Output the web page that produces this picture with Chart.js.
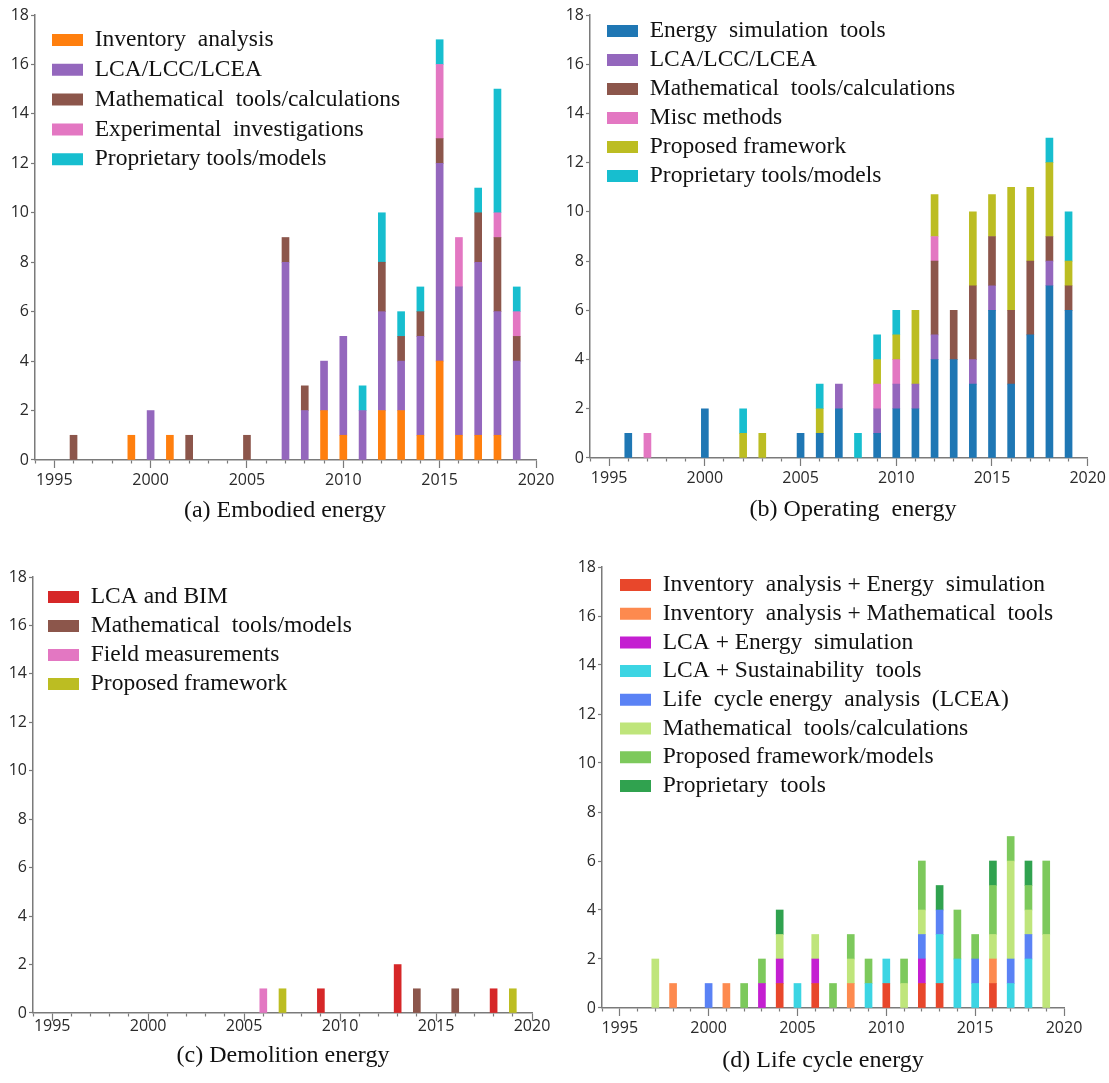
<!DOCTYPE html>
<html><head><meta charset="utf-8">
<script src="https://cdn.jsdelivr.net/npm/chart.js@4.4.1/dist/chart.umd.min.js"></script>
<style>
html,body{margin:0;padding:0;background:#fff;width:1109px;height:1083px;overflow:hidden;position:relative}
canvas{position:absolute}
</style></head><body>
<canvas id="ca"></canvas><canvas id="cb"></canvas><canvas id="cc"></canvas><canvas id="cd"></canvas>
<script>
// ---- axis categories and data years ----
const axisYears = ['1994','1995','1996','1997','1998','1999','2000','2001','2002','2003','2004','2005','2006','2007','2008','2009','2010','2011','2012','2013','2014','2015','2016','2017','2018','2019','2020'];
const years = [1996,1997,1998,1999,2000,2001,2002,2003,2004,2005,2006,2007,2008,2009,2010,2011,2012,2013,2014,2015,2016,2017,2018,2019];
const yTicks = {min: 0, max: 18, step: 2};

// ---- (a) Embodied energy ----
const embodiedLabels = ['Inventory  analysis','LCA/LCC/LCEA','Mathematical  tools/calculations','Experimental  investigations','Proprietary tools/models'];
const embodiedInventory    = [0,0,0,1,0,1,0,0,0,0,0,0,0,2,1,0,2,2,1,4,1,1,1,0];
const embodiedLCA          = [0,0,0,0,2,0,0,0,0,0,0,8,2,2,4,2,4,2,4,8,6,7,5,4];
const embodiedMath         = [1,0,0,0,0,0,1,0,0,1,0,1,1,0,0,0,2,1,1,1,0,2,3,1];
const embodiedExperimental = [0,0,0,0,0,0,0,0,0,0,0,0,0,0,0,0,0,0,0,3,2,0,1,1];
const embodiedProprietary  = [0,0,0,0,0,0,0,0,0,0,0,0,0,0,0,1,2,1,1,1,0,1,5,1];

// ---- (b) Operating energy ----
const operatingLabels = ['Energy  simulation  tools','LCA/LCC/LCEA','Mathematical  tools/calculations','Misc methods','Proposed framework','Proprietary tools/models'];
const operatingEnergySim   = [1,0,0,0,2,0,0,0,0,1,1,2,0,1,2,2,4,4,3,6,3,5,7,6];
const operatingLCA         = [0,0,0,0,0,0,0,0,0,0,0,1,0,1,1,1,1,0,1,1,0,0,1,0];
const operatingMath        = [0,0,0,0,0,0,0,0,0,0,0,0,0,0,0,0,3,2,3,2,3,3,1,1];
const operatingMisc        = [0,1,0,0,0,0,0,0,0,0,0,0,0,1,1,0,1,0,0,0,0,0,0,0];
const operatingProposed    = [0,0,0,0,0,0,1,1,0,0,1,0,0,1,1,3,1.7,0,3,1.7,5,3,3,1];
const operatingProprietary = [0,0,0,0,0,0,1,0,0,0,1,0,1,1,1,0,0,0,0,0,0,0,1,2];

// ---- (c) Demolition energy ----
const demolitionLabels = ['LCA and BIM','Mathematical  tools/models','Field measurements','Proposed framework'];
const demolitionLCABIM    = [0,0,0,0,0,0,0,0,0,0,0,0,0,1,0,0,0,2,0,0,0,0,1,0];
const demolitionMath      = [0,0,0,0,0,0,0,0,0,0,0,0,0,0,0,0,0,0,1,0,1,0,0,0];
const demolitionField     = [0,0,0,0,0,0,0,0,0,0,1,0,0,0,0,0,0,0,0,0,0,0,0,0];
const demolitionProposed  = [0,0,0,0,0,0,0,0,0,0,0,1,0,0,0,0,0,0,0,0,0,0,0,1];

// ---- (d) Life cycle energy ----
const lifeLabels = ['Inventory  analysis + Energy  simulation','Inventory  analysis + Mathematical  tools','LCA + Energy  simulation','LCA + Sustainability  tools','Life  cycle energy  analysis  (LCEA)','Mathematical  tools/calculations','Proposed framework/models','Proprietary  tools'];
const lifeInvEnergy   = [0,0,0,0,0,0,0,0,1,0,1,0,0,0,1,0,1,1,0,0,1,0,0,0];
const lifeInvMath     = [0,0,1,0,0,1,0,0,0,0,0,0,1,0,0,0,0,0,0,0,1,0,0,0];
const lifeLCAEnergy   = [0,0,0,0,0,0,0,1,1,0,1,0,0,0,0,0,1,0,0,0,0,0,0,0];
const lifeLCASustain  = [0,0,0,0,0,0,0,0,0,1,0,0,0,1,1,0,0,2,2,1,0,1,2,0];
const lifeLCEA        = [0,0,0,0,1,0,0,0,0,0,0,0,0,0,0,0,1,1,0,1,0,1,1,0];
const lifeMath        = [0,2,0,0,0,0,0,0,1,0,1,0,1,0,0,1,1,0,0,0,1,4,1,3];
const lifeProposed    = [0,0,0,0,0,0,1,1,0,0,0,1,1,1,0,1,2,0,2,1,2,1,1,3];
const lifeProprietary = [0,0,0,0,0,0,0,0,1,0,0,0,0,0,0,0,0,1,0,0,1,0,1,0];

// ---- styles ----
const embodiedColors  = ['#ff7f0e','#9467bd','#8c564b','#e377c2','#17becf'];
const operatingColors = ['#1f77b4','#9467bd','#8c564b','#e377c2','#bcbd22','#17becf'];
const demolitionColors= ['#d62728','#8c564b','#e377c2','#bcbd22'];
const lifeColors      = ['#e8472b','#fd8a4f','#c41fd1','#3cd5e3','#5a82f5','#bfe57b','#7dc95c','#30a24f'];

const LEGEND_FONT = 23.5;
const AXIS = '#7a7a7a';
const TICKFONT = {family: 'Open Sans', size: 16};

// places the legend (first box left edge / first row centre) and the title centre
const placer = {
  id: 'placer',
  afterLayout(chart, args, o) {
    const lg = chart.legend;
    if (lg && o.legend) {
      const pad = lg.options.labels.padding;
      const nl = o.legend.x - pad;
      const nt = o.legend.y - pad - LEGEND_FONT / 2;
      const dx = nl - lg.left, dy = nt - lg.top;
      lg.left += dx; lg.right += dx; lg.top += dy; lg.bottom += dy;
    }
    const tb = chart.titleBlock;
    if (tb && o.title) {
      const w = tb.right - tb.left, h = tb.bottom - tb.top;
      tb.left = o.title.x - w / 2; tb.right = tb.left + w;
      tb.top = o.title.y - h / 2; tb.bottom = tb.top + h;
    }
  }
};

function stackedPanel(id, p) {
  const cv = document.getElementById(id);
  cv.width = p.box.w; cv.height = p.box.h;
  cv.style.left = p.box.x + 'px'; cv.style.top = p.box.y + 'px';
  const yW = p.area.L - p.box.x;
  const titleLine = 24 * 1.2;
  const padBottom = Math.max(0, p.box.y + p.box.h - (p.area.B + p.xH + titleLine));
  const datasets = p.series.map((s, i) => ({
    label: p.labels[i],
    data: years.map((yr, j) => ({x: String(yr), y: s[j]})).filter(d => d.y > 0),
    backgroundColor: p.colors[i],
    borderWidth: 0,
    barThickness: 7
  }));
  return new Chart(cv, {
    type: 'bar',
    data: {labels: axisYears, datasets},
    plugins: [placer],
    options: {
      responsive: false, animation: false, devicePixelRatio: 1,
      layout: {padding: {left: 0, top: p.area.T - p.box.y, right: p.box.x + p.box.w - p.area.R, bottom: padBottom}},
      scales: {
        x: {
          type: 'category', stacked: true, offset: false,
          grid: {display: true, drawOnChartArea: false, offset: false, tickLength: 8, tickColor: AXIS, tickWidth: 1.2,
                 tickBorderDash: (c) => (+axisYears[c.index] % 5 === 0) ? [] : [3, 30]},
          border: {display: true, color: AXIS, width: 1.5},
          ticks: {autoSkip: false, maxRotation: 0, padding: p.xPad, color: '#2a2a2a', font: TICKFONT,
                  callback: function (v) { const l = this.getLabelForValue(v); return (+l % 5 === 0) ? l : ''; }},
          afterFit: (s) => { s.height = p.xH; }
        },
        y: {
          stacked: true, min: yTicks.min, max: yTicks.max,
          ticks: {stepSize: yTicks.step, padding: 2, color: '#2a2a2a', font: TICKFONT},
          grid: {display: true, drawOnChartArea: false, tickLength: 4, tickColor: AXIS, tickWidth: 1.2},
          border: {display: true, color: AXIS, width: 1.5},
          afterFit: (s) => { s.width = yW; }
        }
      },
      plugins: {
        legend: {position: 'chartArea', align: 'start',
          labels: {boxWidth: 31, boxHeight: 12, padding: p.legendPad, color: '#111',
                   font: {family: 'Liberation Serif', size: LEGEND_FONT}}},
        title: {display: true, position: 'bottom', text: p.title, color: '#111',
                font: {family: 'Liberation Serif', size: 24, weight: 'normal'},
                padding: {top: 0, bottom: 0}},
        tooltip: {enabled: false},
        placer: {
          legend: {x: p.legendAt.x - p.box.x, y: p.legendAt.y - p.box.y},
          title: {x: p.titleAt.x - p.box.x, y: p.titleAt.y - p.box.y}
        }
      }
    }
  });
}

stackedPanel('ca', {
  box: {x: 0, y: 0, w: 570, h: 540}, area: {L: 35, T: 15, R: 536, B: 460},
  xH: 30, xPad: 3, title: '(a) Embodied energy', titleAt: {x: 285, y: 511},
  legendPad: 6.3, legendAt: {x: 52, y: 40},
  labels: embodiedLabels, colors: embodiedColors,
  series: [embodiedInventory, embodiedLCA, embodiedMath, embodiedExperimental, embodiedProprietary]
});
stackedPanel('cb', {
  box: {x: 555, y: 0, w: 554, h: 540}, area: {L: 590, T: 15, R: 1089, B: 458},
  xH: 30, xPad: 3, title: '(b) Operating  energy', titleAt: {x: 853, y: 510},
  legendPad: 5.5, legendAt: {x: 607, y: 31},
  labels: operatingLabels, colors: operatingColors,
  series: [operatingEnergySim, operatingLCA, operatingMath, operatingMisc, operatingProposed, operatingProprietary]
});
stackedPanel('cc', {
  box: {x: 0, y: 545, w: 570, h: 538}, area: {L: 33, T: 577, R: 532, B: 1013},
  xH: 30, xPad: -4, title: '(c) Demolition energy', titleAt: {x: 283, y: 1056},
  legendPad: 5.5, legendAt: {x: 48, y: 597},
  labels: demolitionLabels, colors: demolitionColors,
  series: [demolitionLCABIM, demolitionMath, demolitionField, demolitionProposed]
});
stackedPanel('cd', {
  box: {x: 534, y: 545, w: 556, h: 538}, area: {L: 602, T: 567, R: 1064, B: 1008},
  xH: 30, xPad: 3, title: '(d) Life cycle energy', titleAt: {x: 823, y: 1061},
  legendPad: 5.2, legendAt: {x: 620, y: 585},
  labels: lifeLabels, colors: lifeColors,
  series: [lifeInvEnergy, lifeInvMath, lifeLCAEnergy, lifeLCASustain, lifeLCEA, lifeMath, lifeProposed, lifeProprietary]
});
</script>
</body></html>
